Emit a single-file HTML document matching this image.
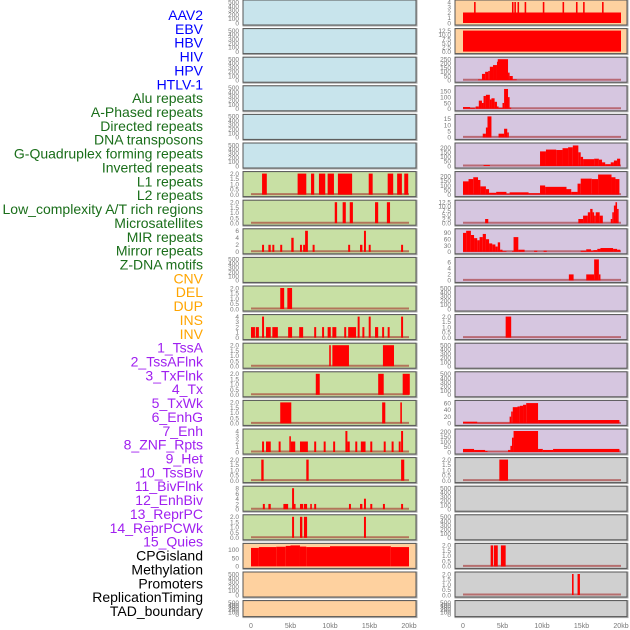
<!DOCTYPE html>
<html><head><meta charset="utf-8">
<style>
body{margin:0;background:#fff;}
svg{display:block;font-family:"Liberation Sans",sans-serif;}
</style></head>
<body>
<svg id="chart" width="630" height="630" viewBox="0 0 630 630" xmlns="http://www.w3.org/2000/svg"></svg>
<script>
const trackLabels = ["AAV2","EBV","HBV","HIV","HPV","HTLV-1","Alu repeats","A-Phased repeats","Directed repeats","DNA transposons","G-Quadruplex forming repeats","Inverted repeats","L1 repeats","L2 repeats","Low_complexity A/T rich regions","Microsatellites","MIR repeats","Mirror repeats","Z-DNA motifs","CNV","DEL","DUP","INS","INV","1_TssA","2_TssAFlnk","3_TxFlnk","4_Tx","5_TxWk","6_EnhG","7_Enh","8_ZNF_Rpts","9_Het","10_TssBiv","11_BivFlnk","12_EnhBiv","13_ReprPC","14_ReprPCWk","15_Quies","CPGisland","Methylation","Promoters","ReplicationTiming","TAD_boundary"];
const labelGroups = [6,13,5,15,5];
const groupColors = ["#0000ff","#1a6e1a","#ffa500","#a020f0","#000000"];
const xTickValues = [0,5,10,15,20];
const xTickLabels = ["0","5kb","10kb","15kb","20kb"];
const emptyTicks = [0,100,200,300,400,500];
const ticks2 = [0,0.5,1,1.5,2];

// segments: [startKb, endKb, value]
const L6 = [[1.4,2.0,2],[5.9,7.0,2],[7.6,8.0,2],[8.6,9.4,2],[9.7,10.5,2],[11.0,12.8,2],[14.9,15.4,2],[17.3,18.0,2],[18.5,19.1,2],[19.4,19.9,2]];
const L7 = [[10.6,10.9,2],[11.6,12.0,2],[12.5,12.9,2],[15.7,16.1,2],[17.2,17.6,2]];
const L8 = [[1.4,1.65,2],[2.2,2.5,2],[2.7,2.95,2],[3.7,3.95,2],[5.1,5.4,4],[6.2,6.45,2],[6.6,6.85,2],[6.85,7.2,6],[7.8,8.05,2],[12.3,12.55,2],[13.8,14.1,2],[14.3,14.55,6],[14.9,15.15,2],[19.0,19.25,2]];
const L10 = [[3.7,4.2,2],[4.6,5.2,2]];
const L11 = [[0,0.5,2],[0.6,1.0,2],[1.4,1.65,4],[1.9,2.5,2],[2.7,3.4,2],[4.7,5.2,2],[6.1,6.6,2],[8.0,8.25,2],[9.0,9.25,2],[9.7,10.1,2],[10.3,10.8,2],[11.8,12.05,2],[12.3,13.3,2],[13.5,13.75,4],[14.1,14.35,2],[14.9,15.15,4],[15.7,16.1,2],[16.6,16.85,2],[17.3,17.55,2],[19.0,19.25,4]];
const L12 = [[9.9,10.1,2],[10.3,12.4,2],[16.7,18.1,2]];
const L13 = [[8.2,8.7,2],[16.1,16.8,2],[19.2,20.1,2]];
const L14 = [[3.7,5.1,2],[16.6,17.0,2],[18.9,19.1,2]];
const L15 = [[1.4,1.65,2],[1.9,2.5,2],[3.5,3.75,2],[4.85,5.05,3],[5.05,5.6,2],[6.2,7.2,2],[8.0,8.25,2],[9.2,9.45,2],[10.4,10.65,2],[11.95,12.2,4],[12.2,12.5,2],[13.2,13.45,2],[13.9,14.5,2],[15.1,15.35,2],[16.8,17.05,2],[17.8,18.05,2],[18.7,18.95,2],[19.0,19.25,4]];
const L16 = [[1.3,1.6,2],[7.0,7.3,2],[19.0,19.4,2]];
const L17 = [[1.5,1.75,2],[2.2,2.5,2],[4.1,4.7,2],[5.2,5.45,8],[5.45,5.6,2],[6.2,6.6,2],[6.7,7.1,2],[7.5,7.7,2],[8.0,8.25,2],[12.4,12.65,2],[13.8,14.1,2],[14.3,14.55,4],[15.1,15.35,2],[16.7,16.95,2],[19.0,19.25,2]];
const L18 = [[5.2,5.45,2],[6.2,6.5,2],[6.7,7.1,2],[14.3,14.55,2]];
const L19 = [[0,1.0,110],[1.0,3.2,115],[3.2,4.4,117],[4.4,5.0,122],[5.0,6.2,125],[6.2,7.0,118],[7.0,10.0,115],[10.0,17.7,120],[17.7,20.0,115]];
const R0base = [[0,20,2]];
const R0 = [[1.4,1.6,4],[6.2,6.4,4],[6.5,6.7,4],[6.9,7.1,4],[7.8,8.0,4],[10.1,10.3,4],[12.6,12.8,4],[14.3,14.5,4],[15.2,15.4,4],[17.6,17.8,4]];
const R1 = [[0,20,12.5]];
const R2 = [[1.9,2.4,8],[2.4,2.8,75],[2.8,3.2,100],[3.2,3.4,110],[3.4,3.8,160],[3.8,4.3,180],[4.3,4.4,220],[4.4,5.7,250],[5.7,5.9,90],[5.9,6.3,50],[6.3,6.8,10]];
const R3 = [[0,0.9,15],[0.9,1.5,8],[1.6,2.0,20],[2.0,2.4,70],[2.4,2.6,50],[2.6,2.9,110],[2.9,3.4,120],[3.4,3.6,80],[3.6,4.0,90],[4.0,4.3,60],[4.3,4.5,20],[4.5,5.0,8],[5.0,5.2,50],[5.2,5.7,170],[5.7,5.9,100],[5.9,6.1,10]];
const R4 = [[2.5,2.9,3],[2.9,3.1,8],[3.1,3.6,17],[4.5,5.2,3],[5.2,5.6,7],[5.6,5.8,4]];
const R5 = [[2.6,3.4,10],[9.75,10.5,160],[10.5,11.8,180],[11.8,12.6,175],[12.6,13.3,195],[13.3,13.9,205],[13.9,14.6,225],[14.6,14.9,150],[14.9,15.2,100],[15.2,16.6,75],[16.6,17.2,80],[17.2,17.6,70],[17.6,18.0,40],[18.0,18.7,20],[18.7,19.1,40],[19.1,19.5,60],[19.5,19.9,80]];
const R6 = [[0,0.7,145],[0.7,1.3,170],[1.3,1.9,190],[1.9,2.2,160],[2.2,2.9,90],[2.9,3.3,60],[3.3,4.2,20],[4.2,5.5,30],[5.5,5.9,10],[5.9,8.3,25],[8.3,9.75,15],[9.75,10.4,100],[10.4,13.1,85],[13.1,13.7,60],[13.7,14.5,30],[14.5,14.9,120],[14.9,16.3,175],[16.3,17.1,170],[17.1,18.8,220],[18.8,19.3,190],[19.3,19.8,170]];
const R7 = [[2.8,3.2,2.5],[14.6,15.2,2.5],[15.2,15.8,4.5],[15.8,16.1,6.5],[16.1,16.4,8.5],[16.4,16.6,6.5],[16.6,16.8,4.5],[16.8,17.3,6.5],[17.3,17.7,4.5],[18.7,18.9,2.5],[18.9,19.1,6.5],[19.1,19.3,10.5],[19.3,19.5,12.5],[19.5,19.7,8.5]];
const R8 = [[0,0.4,90],[0.4,1.0,100],[1.0,1.4,80],[1.4,1.8,65],[1.8,2.1,55],[2.1,2.5,70],[2.5,2.9,85],[2.9,3.3,60],[3.3,3.7,40],[3.7,4.1,35],[4.1,4.4,25],[4.4,4.7,45],[4.7,5.0,10],[5.0,5.5,3],[6.2,6.4,3],[6.4,7.0,70],[7.0,7.8,10],[9.0,9.4,5],[10.2,10.6,5],[14.9,15.6,5],[15.6,16.2,12],[16.2,16.5,5],[16.5,17.0,8],[17.0,17.4,14],[17.4,19.0,18],[19.0,19.5,14],[19.5,19.9,10]];
const R9 = [[13.4,14.0,2],[15.6,16.6,2],[16.6,17.2,7],[17.2,17.4,2]];
const R11 = [[5.4,6.1,2]];
const R14 = [[0,1.8,5],[1.8,5.9,2],[5.9,6.1,20],[6.1,6.3,35],[6.3,6.9,48],[6.9,7.2,50],[7.2,7.6,52],[7.6,8.0,55],[8.0,9.5,60],[9.5,19.8,10]];
const R15 = [[0,1.4,30],[1.4,2.8,20],[2.8,3.1,10],[3.1,5.7,2],[5.7,6.0,20],[6.0,6.2,60],[6.2,6.4,140],[6.4,9.5,205],[9.5,10.1,30],[10.1,11.4,20],[11.4,19.8,30]];
const R16 = [[4.6,5.7,2]];
const R19 = [[3.5,3.8,2],[3.9,4.4,2],[4.8,5.4,2]];
const R20 = [[13.8,14.0,2],[14.5,14.8,2]];

const BLUE="#c8e4ec",GREEN="#c8e0a4",ORANGE="#fed19f",PURPLE="#d6c6e0",GREY="#d0d0d0";
const panels = [
 {c:0,r:0,bg:BLUE},{c:0,r:1,bg:BLUE},{c:0,r:2,bg:BLUE},{c:0,r:3,bg:BLUE},{c:0,r:4,bg:BLUE},{c:0,r:5,bg:BLUE},
 {c:0,r:6,bg:GREEN,max:2,t:ticks2,d:L6},{c:0,r:7,bg:GREEN,max:2,t:ticks2,d:L7},
 {c:0,r:8,bg:GREEN,max:6,t:[0,2,4,6],d:L8},{c:0,r:9,bg:GREEN},
 {c:0,r:10,bg:GREEN,max:2,t:ticks2,d:L10},{c:0,r:11,bg:GREEN,max:4,t:[0,1,2,3,4],d:L11},
 {c:0,r:12,bg:GREEN,max:2,t:ticks2,d:L12},{c:0,r:13,bg:GREEN,max:2,t:ticks2,d:L13},
 {c:0,r:14,bg:GREEN,max:2,t:ticks2,d:L14},{c:0,r:15,bg:GREEN,max:4,t:[0,1,2,3,4],d:L15},
 {c:0,r:16,bg:GREEN,max:2,t:ticks2,d:L16},{c:0,r:17,bg:GREEN,max:8,t:[0,2,4,6,8],d:L17},
 {c:0,r:18,bg:GREEN,max:2,t:ticks2,d:L18},{c:0,r:19,bg:ORANGE,max:125,t:[0,50,100],d:L19,nb:1},
 {c:0,r:20,bg:ORANGE},{c:0,r:21,bg:ORANGE},
 {c:1,r:0,bg:ORANGE,max:4,t:[0,1,2,3,4],d:R0base.concat(R0),nb:1},{c:1,r:1,bg:ORANGE,max:12.5,t:[0,2.5,5,7.5,10,12.5],d:R1,nb:1},
 {c:1,r:2,bg:PURPLE,max:250,t:[0,50,100,150,200,250],d:R2},{c:1,r:3,bg:PURPLE,max:180,t:[0,50,100,150],d:R3},
 {c:1,r:4,bg:PURPLE,max:17,t:[0,5,10,15],d:R4},{c:1,r:5,bg:PURPLE,max:230,t:[0,50,100,150,200],d:R5},
 {c:1,r:6,bg:PURPLE,max:230,t:[0,50,100,150,200],d:R6},{c:1,r:7,bg:PURPLE,max:12.5,t:[0,2.5,5,7.5,10,12.5],d:R7},
 {c:1,r:8,bg:PURPLE,max:100,t:[0,30,60,90],d:R8},{c:1,r:9,bg:PURPLE,max:7,t:[0,2,4,6],d:R9},
 {c:1,r:10,bg:PURPLE},{c:1,r:11,bg:PURPLE,max:2,t:ticks2,d:R11},{c:1,r:12,bg:PURPLE},{c:1,r:13,bg:PURPLE},
 {c:1,r:14,bg:PURPLE,max:62,t:[0,20,40,60],d:R14},{c:1,r:15,bg:PURPLE,max:205,t:[0,50,100,150,200],d:R15},
 {c:1,r:16,bg:GREY,max:2,t:ticks2,d:R16},{c:1,r:17,bg:GREY},{c:1,r:18,bg:GREY},
 {c:1,r:19,bg:GREY,max:2,t:ticks2,d:R19},{c:1,r:20,bg:GREY,max:2,t:ticks2,d:R20},{c:1,r:21,bg:GREY}
];

const NS="http://www.w3.org/2000/svg";
const svg=document.getElementById('chart');
function mk(tag,attrs,parent){const e=document.createElementNS(NS,tag);for(const k in attrs)e.setAttribute(k,attrs[k]);(parent||svg).appendChild(e);return e;}
const colFrameX=[243,455], colFrameW=[173,172], colX0=[251,463], pxPerKb=7.9;
function xScale(c,kb){return colX0[c]+kb*pxPerKb;}
function rowTop(r){return r*28.6;}
function rowH(r){return r===21?16:25;}
function fmt(v,tk){const dec=tk.some(x=>x%1!==0);return dec?(tk.some(x=>(x*10)%1!==0)?v.toFixed(1):v.toFixed(1)):String(v);}

// labels
let gi=0,cnt=0;
trackLabels.forEach((lab,i)=>{
  while(cnt>=labelGroups[gi]){cnt=0;gi++;}
  cnt++;
  const t=mk('text',{x:203,y:15+i*13.86+5,'text-anchor':'end','font-size':14,fill:groupColors[gi]});
  t.textContent=lab;
  
  
});

panels.forEach(p=>{
  const g=mk('g',{});
  
  
  const top=rowTop(p.r), h=rowH(p.r);
  const fx=colFrameX[p.c], fw=colFrameW[p.c];
  mk('rect',{x:fx-0.5,y:top-0.5,width:fw+2,height:h+2,fill:'#aaa'},g);
  const bgr=mk('rect',{x:fx,y:top,width:fw,height:h,fill:p.bg,stroke:'#555','stroke-width':1},g);
  
  
  const y0=top+h-2, y1=top+2;
  const max=p.max||500, tk=p.t||emptyTicks;
  const ys=v=>y0-(v/max)*(y0-y1);
  tk.forEach(v=>{
    const t=mk('text',{x:fx-4,y:ys(v)+2.3,'text-anchor':'end','font-size':6.5,fill:'#777'},g);
    t.textContent=p.t?fmt(v,tk):String(v);
    
    
  });
  if(p.d){
    if(!p.nb){
      const bl=mk('line',{x1:xScale(p.c,0),x2:xScale(p.c,20),y1:y0-0.5,y2:y0-0.5,stroke:'rgba(160,30,30,0.55)','stroke-width':2},g);
      
      
    }
    p.d.forEach(s=>{
      const xa=xScale(p.c,s[0]), xb=xScale(p.c,s[1]);
      const b=mk('rect',{x:xa,y:ys(s[2]),width:Math.max(1.5,xb-xa),height:y0-ys(s[2]),fill:'#ff0000'},g);
      
      
    });
  }
});

[0,1].forEach(c=>{
  xTickValues.forEach((v,i)=>{
    const t=mk('text',{x:xScale(c,v),y:628,'text-anchor':'middle','font-size':7,fill:'#777'});
    t.textContent=xTickLabels[i];
    
    
  });
});
</script>
</body></html>
